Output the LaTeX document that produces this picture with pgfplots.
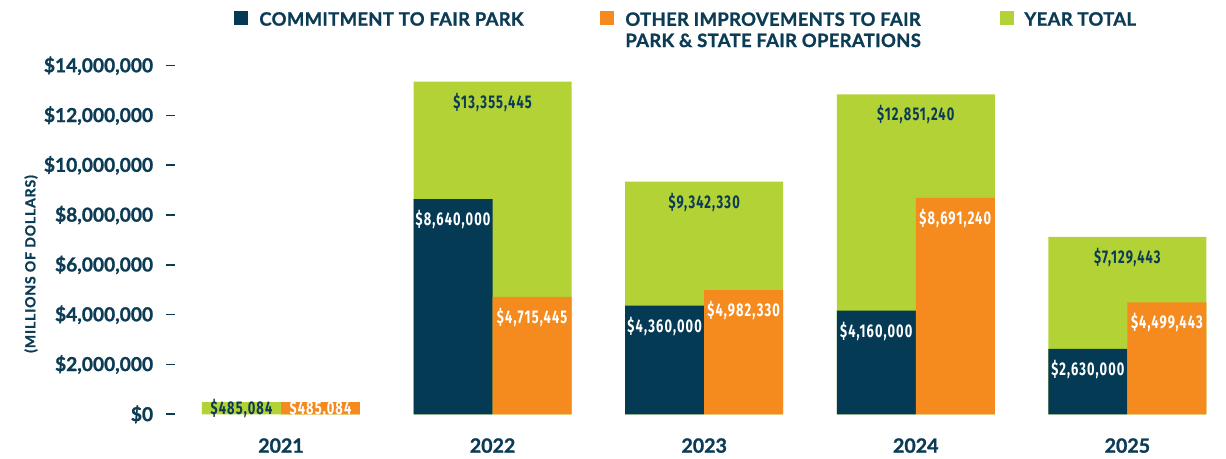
\documentclass[border=0pt]{standalone}
\usepackage{fontspec}
\setmainfont{Lato}[BoldFeatures={FakeBold=1.2}]
\newfontfamily\condfont[FakeStretch=0.7,LetterSpace=6]{Fira Sans}
\usepackage{pgfplots}
\pgfplotsset{compat=1.18}

\definecolor{cnavy}{RGB}{4,58,84}
\definecolor{corange}{RGB}{245,138,31}
\definecolor{cgreen}{RGB}{179,210,53}
\definecolor{ctext}{RGB}{11,59,85}

% half of a category bar, in axis units
\newcommand\hs{0.18667}

\begin{document}
\begin{tikzpicture}
% axis box: left edge at px 175.2, zero line at px 414.3 (image 1226x459, 1px = 0.5pt)
\begin{axis}[
  at={(87.6pt,22.35pt)}, anchor=south west,
  scale only axis, width=518.4pt, height=174.3pt,
  xmin=-0.5, xmax=4.4, ymin=0, ymax=14000000,
  axis line style={draw=none},
  xtick={0,1,2,3,4},
  xticklabels={2021,2022,2023,2024,2025},
  x tick style={draw=none},
  xticklabel style={font=\fontsize{9.8}{11}\selectfont\bfseries, text=ctext, yshift=-4pt},
  ytick={0,2000000,4000000,6000000,8000000,10000000,12000000,14000000},
  yticklabels={\$0,{\$2,000,000},{\$4,000,000},{\$6,000,000},{\$8,000,000},{\$10,000,000},{\$12,000,000},{\$14,000,000}},
  scaled y ticks=false,
  ytick pos=left, xtick pos=bottom,
  tick align=outside, major tick length=4.5pt,
  y tick style={ctext, line width=0.8pt},
  yticklabel style={font=\fontsize{9.6}{11}\selectfont\bfseries, text=ctext, xshift=-3pt},
  clip=false,
]
% year total, drawn behind
\addplot[ybar, bar width=0.7467, bar shift=0, fill=cgreen, draw=none]
  coordinates {(0,485084) (1,13355445) (2,9342330) (3,12851240) (4,7129443)};
% commitment to Fair Park
\addplot[ybar, bar width=0.3733, bar shift=-0.18667, fill=cnavy, draw=none]
  coordinates {(1,8640000) (2,4360000) (3,4160000) (4,2630000)};
% other improvements
\addplot[ybar, bar width=0.3733, bar shift=0.18667, fill=corange, draw=none]
  coordinates {(0,485084) (1,4715445) (2,4982330) (3,8691240) (4,4499443)};

\begin{scope}[every node/.style={font=\condfont\fontsize{9.2}{10}\selectfont\bfseries, yshift=-10.3pt}]
\node[text=ctext] at (axis cs:1,13355445) {\$13,355,445};
\node[text=ctext] at (axis cs:2,9342330) {\$9,342,330};
\node[text=ctext] at (axis cs:3,12851240) {\$12,851,240};
\node[text=ctext] at (axis cs:4,7129443) {\$7,129,443};
\node[text=white] at (axis cs:1-\hs,8640000) {\$8,640,000};
\node[text=white] at (axis cs:2-\hs,4360000) {\$4,360,000};
\node[text=white] at (axis cs:3-\hs,4160000) {\$4,160,000};
\node[text=white] at (axis cs:4-\hs,2630000) {\$2,630,000};
\node[text=white] at (axis cs:1+\hs,4715445) {\$4,715,445};
\node[text=white] at (axis cs:2+\hs,4982330) {\$4,982,330};
\node[text=white] at (axis cs:3+\hs,8691240) {\$8,691,240};
\node[text=white] at (axis cs:4+\hs,4499443) {\$4,499,443};
\end{scope}
\begin{scope}[every node/.style={font=\condfont\fontsize{9.2}{10}\selectfont\bfseries}]
\node[text=ctext] at (axis cs:0-\hs,242542) {\$485,084};
\node[text=white] at (axis cs:0+\hs,242542) {\$485,084};
\end{scope}
\end{axis}

% legend and y label, in image pixels from the top-left corner
\begin{scope}[x=0.5pt, y=-0.5pt, shift={(0pt,229.5pt)}]
\begin{scope}[every node/.style={font=\fontsize{9.2}{10.6}\selectfont\bfseries\addfontfeature{LetterSpace=2}, text=ctext, inner sep=0pt}]
\fill[cnavy] (234,11) rectangle (248,25);
\node[anchor=west] at (259,19) {COMMITMENT TO FAIR PARK};
\fill[corange] (600,11) rectangle (614,25);
\node[anchor=north west, align=left] at (625,12) {OTHER IMPROVEMENTS TO FAIR\\PARK \& STATE FAIR OPERATIONS};
\fill[cgreen] (1000,11) rectangle (1014,25);
\node[anchor=west] at (1024,19) {YEAR TOTAL};
\end{scope}
\node[rotate=90, font=\fontsize{7}{8}\selectfont\bfseries\addfontfeature{LetterSpace=6}, text=ctext] at (31,264) {(MILLIONS OF DOLLARS)};
\pgfresetboundingbox
\path (0,0) rectangle (1226,459);
\end{scope}
\end{tikzpicture}
\end{document}
